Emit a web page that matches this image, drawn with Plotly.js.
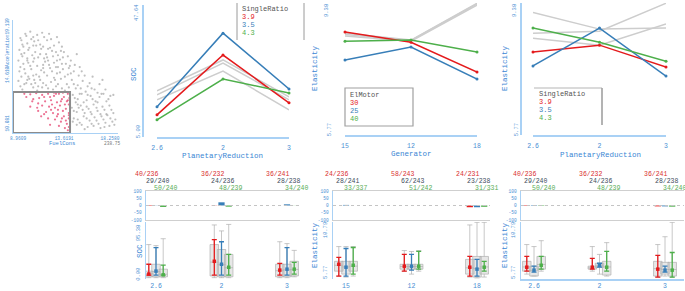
<!DOCTYPE html>
<html><head><meta charset="utf-8">
<script src="https://cdn.plot.ly/plotly-3.0.1.min.js"></script>
<style>html,body{margin:0;padding:0;background:#fff}#chart{width:685px;height:291px}</style>
</head><body><div id="chart"></div>
<script>
// ================= DATA =================
// Scatter (brushing view)
const scatterGrayX = [10.2,11.4,12.1,9.8,10.9, 9.3,9.9,10.6,11.2,11.9,12.6,13.1,10.3, 9.1,9.6,10.1,10.7,11.3,11.8,12.4,13.0,13.6,9.4,10.4, 9.0,9.5,9.9,10.5,11.0,11.5,12.0,12.6,13.2,13.8,14.3,10.2,11.7,9.2, 9.1,9.7,10.3,10.8,11.3,11.9,12.4,12.9,13.5,14.0,14.6,15.1,10.0,12.2,11.1, 9.0,9.6,10.1,10.7,11.2,11.8,12.3,12.8,13.3,13.9,14.4,15.0,15.5,16.0,10.5, 9.4,10.9,12.5,13.7,14.8,15.8,16.4, 14.5,15.0,15.4,15.9,16.3,16.8,17.2,14.8,17.6,18.1, 14.4,14.9,15.3,15.7,16.1,16.6,17.0,17.5,17.9,18.4,15.1,16.4, 14.6,15.2,15.6,16.2,16.7,17.1,17.6,18.0,18.5,14.9, 16.0,17.3,18.2,18.7, 16.5,17.2,17.8,18.6,15.2,14.9,17.5, 9.5,10.8,12.2,11.6,12.9,10.6,12.6,13.4,11.4,9.8,14.2,13.0];
const scatterGrayY = [18.7,18.6,18.5,18.3,18.4, 17.9,17.6,17.8,17.5,17.9,17.4,17.7,18.0, 17.0,16.7,17.2,16.8,17.1,16.6,16.9,16.5,16.8,16.4,16.5, 16.0,15.7,16.2,15.9,16.3,15.6,16.0,15.8,16.1,15.7,16.0,15.5,15.9,15.4, 15.0,14.8,15.2,14.7,15.1,14.6,15.0,14.8,15.2,14.7,15.0,14.6,14.5,15.3,14.5, 14.1,13.8,14.3,13.9,14.2,13.7,14.0,13.6,14.3,13.8,14.2,13.7,14.1,13.6,13.5, 13.3,13.2,13.3,13.2,13.4,13.1,13.4, 12.8,12.4,12.9,12.3,12.7,12.2,12.6,12.1,12.9,12.4, 11.6,11.2,11.8,11.1,11.5,11.9,11.3,11.7,11.0,11.4,11.6,11.0, 10.6,10.2,10.8,10.4,10.7,10.1,10.5,10.9,10.3,10.0, 9.8,9.7,9.9,10.0, 14.5,13.8,13.3,12.8,15.4,16.6,14.2, 17.3,17.4,17.2,16.2,16.0,14.2,14.4,13.4,13.5,13.9,15.5,15.4];
const scatterGrayExtra = [[9.2,18.1],[9.7,18.5],[10.5,18.2],[11.0,17.9],[11.6,18.2],[12.3,18.0],[12.9,18.2],[13.4,17.3],[9.4,17.5],[10.0,17.0],[10.5,17.4],[11.5,17.3],[12.0,17.1],[12.8,16.8],[13.3,16.9],[9.3,16.6],[9.9,16.0],[10.6,16.2],[11.2,16.6],[11.9,16.3],[12.5,16.4],[13.5,16.3],[14.0,16.4],[9.6,15.2],[10.0,15.8],[10.9,15.5],[11.5,15.3],[12.1,15.6],[12.8,15.4],[13.4,15.7],[14.1,15.3],[14.7,15.6],[9.3,14.5],[9.9,14.2],[10.5,14.6],[11.6,14.9],[12.7,14.2],[13.2,14.9],[13.7,14.5],[14.3,14.8],[15.4,15.0],[15.7,14.6],[9.2,13.6],[10.3,13.8],[11.0,13.6],[11.5,13.9],[12.0,13.4],[13.0,13.8],[14.1,13.5],[14.6,13.8],[15.3,13.4],[16.2,13.9],[16.7,13.3],[17.0,13.0],
  [14.7,12.5],[15.2,12.9],[15.6,12.1],[16.0,12.8],[16.5,12.4],[17.0,12.1],[17.4,12.9],[17.9,12.2],[18.3,12.7],[14.6,11.3],[15.0,11.9],[15.5,11.4],[15.9,11.7],[16.3,11.2],[16.9,11.6],[17.3,11.0],[17.7,11.4],[18.2,11.8],[18.6,11.1],[15.0,10.5],[15.4,10.0],[15.9,10.6],[16.4,10.1],[16.9,10.4],[17.4,10.8],[17.8,10.2],[18.3,10.6],[18.8,10.5],[16.6,9.9],[17.7,9.8],[14.5,10.3],[15.7,9.6]];
const scatterSelX = [12.0,12.6,13.1,13.6,14.0,11.4,10.8,10.2,9.6, 12.3,12.9,13.4,13.9,11.7,11.1,10.5, 12.7,13.2,13.8,14.1,12.1,11.4, 13.0,13.6,14.1,12.5,11.8, 13.3,13.9,14.1,12.7, 13.7,14.0,12.2,11.3,10.9,14.15,13.5];
const scatterSelY = [12.9,12.7,12.9,12.6,12.9,12.8,12.95,12.85,12.9, 12.3,12.1,12.4,12.2,12.2,12.5,12.4, 11.6,11.8,11.5,11.9,11.7,11.8, 11.0,10.8,11.1,11.1,11.2, 10.3,10.1,10.6,10.5, 9.7,9.5,10.0,10.8,11.6,12.5,13.0];
const scatterSelExtra = [[9.8,12.6],[10.4,12.2],[11.0,12.0],[11.6,12.6],[12.2,12.6],[12.8,12.9],[13.3,12.2],[13.7,11.9],[14.0,12.3],[12.4,11.9],[13.0,11.4],[13.5,11.3],[14.1,10.9],[12.3,11.4],[12.9,10.8],[13.4,10.6],[13.8,10.4],[12.0,10.6],[11.6,11.0],[13.1,9.9],[14.1,9.8],[10.2,11.7],[11.0,11.3],[12.6,13.0]];
const brushX = [8.45, 14.22];
const brushY = [9.24, 13.07];
const scatterXTicks = [8.9609, 13.6191, 18.2580];
const scatterXTickText = ['8.9609', '13.6191', '18.2580'];
const scatterYTicks = [10.081, 14.610, 19.139];
const scatterYTickText = ['10.081', '14.610', '19.139'];
const scatterCountText = '238.75';

// Categories and groupings
const planetaryCats = ['2.6', '2', '3'];
const generatorCats = ['15', '12', '18'];
const singleRatioLevels = ['3.9', '3.5', '4.3'];
const elMotorLevels = ['30', '25', '40'];

// Top: SOC by PlanetaryReduction (lines per SingleRatio)
const socRatio39 = [12.1, 31.5, 16.0];
const socRatio35 = [14.7, 38.6, 20.5];
const socRatio43 = [10.5, 23.7, 19.2];
const socOtherA = [19.9, 29.9, 17.9];
const socOtherB = [17.0, 26.3, 13.7];
const socOtherC = [18.6, 28.9, 17.0];
const socRange = [5.00, 47.64];

// Top: Elasticity by Generator (lines per ElMotor)
const elaGenMotor30 = [8.59, 8.31, 7.49];
const elaGenMotor25 = [7.82, 8.18, 7.30];
const elaGenMotor40 = [8.34, 8.37, 8.04];
const elaGenOtherA = [8.56, 8.37, 9.38];
const elaGenOtherB = [8.48, 8.34, 9.33];
const elaGenOtherC = [8.52, 8.36, 9.36];
const elaRange = [5.77, 9.38];

// Top: Elasticity by PlanetaryReduction (lines per SingleRatio)
const elaPlanRatio39 = [8.04, 8.23, 7.63];
const elaPlanRatio35 = [7.66, 8.70, 7.38];
const elaPlanRatio43 = [8.70, 8.31, 7.79];
const elaPlanOtherA = [9.13, 8.67, 8.70];
const elaPlanOtherB = [8.56, 8.61, 9.38];
const elaPlanOtherC = [8.42, 8.23, 8.81];

// Bottom: difference bars (-100..100), rows = series, cols = categories
const socDiff = [[-3, -3, 0], [3, 22, 8], [-10, -8, -2]];
const socDiffAlpha = [[1, 0.4, 1], [0.35, 1, 1], [1, 1, 0.35]];
const elaGenDiff = [[0, 0, -12], [4, 0, -12], [0, 0, -9]];
const elaGenDiffAlpha = [[1, 1, 1], [1, 1, 1], [1, 1, 1]];
const elaPlanDiff = [[-3, 0, -6], [-3, 0, -6], [-3, -1, -8]];
const elaPlanDiffAlpha = [[1, 1, 1], [1, 1, 1], [1, 0.4, 1]];

// Bottom: counts
const countsPlanetary = [['40/236', '36/232', '36/241'], ['29/240', '24/236', '28/238'], ['50/240', '48/239', '34/240']];
const countsGenerator = [['24/236', '58/243', '24/231'], ['28/241', '62/243', '23/238'], ['33/337', '51/242', '31/331']];

// Bottom: SOC distribution (rows = SingleRatio 3.9, 3.5, 4.3)
const socIntLo = [[0, 0, 0], [0, 0, 0], [0, 0, 2.3]];
const socIntMid = [[2.3, 31.8, 11.4], [9.1, 25, 13.6], [0.5, 18, 13.6]];
const socIntHi = [[25, 82, 27], [63.6, 77, 63.6], [23, 47.7, 29.5]];
const socBoxMin = [[-6, -6, -6], [-6, -6, -6], [-6, -6, -4]];
const socBoxQ1 = [[-4, -2, -4], [-4, -4, -4], [-4, -4, -2]];
const socBoxMed = [[3, 30, 10], [8, 24, 12], [2, 17, 13]];
const socBoxQ3 = [[9.1, 70.4, 25], [25, 59, 25], [13.6, 47.7, 31.8]];
const socBoxMax = [[70.4, 115.8, 77], [68, 102, 72.7], [84, 117, 57]];
const socBoxTicks = [0, 95.38];
const socBoxRange = [-9.1, 122.6];

// Bottom: Elasticity by Generator (rows = ElMotor 30, 25, 40)
const egIntLo = [[5.42, 6.0, 5.42], [5.42, 6.12, 5.42], [5.65, 6.24, 6.0]];
const egIntMid = [[6.82, 6.59, 6.47], [6.47, 6.59, 6.24], [6.70, 6.59, 6.47]];
const egIntHi = [[7.64, 7.99, 7.75], [8.69, 7.99, 7.40], [8.81, 8.34, 7.17]];
const egBoxMin = [[5.42, 6.0, 5.3], [5.3, 5.65, 5.2], [5.42, 6.0, 5.3]];
const egBoxQ1 = [[6.0, 6.24, 5.65], [5.65, 6.24, 5.3], [6.0, 6.24, 5.65]];
const egBoxMed = [[6.7, 6.55, 6.4], [6.5, 6.55, 6.3], [6.6, 6.55, 6.5]];
const egBoxQ3 = [[7.17, 6.82, 7.40], [7.17, 6.82, 7.75], [7.17, 6.82, 7.75]];
const egBoxMax = [[8.92, 8.45, 11.49], [8.92, 8.34, 11.8], [8.92, 8.45, 11.8]];

// Bottom: Elasticity by PlanetaryReduction (rows = SingleRatio 3.9, 3.5, 4.3)
const epIntLo = [[6.0, 6.24, 5.30], [5.89, 6.47, 5.89], [6.24, 6.0, 5.30]];
const epIntMid = [[6.47, 6.47, 6.24], [6.12, 6.70, 6.12], [6.70, 6.47, 6.12]];
const epIntHi = [[7.75, 7.52, 7.87], [6.59, 6.94, 6.59], [7.75, 8.34, 8.22]];
const epBoxMin = [[5.65, 6.0, 5.3], [5.42, 5.65, 5.42], [6.0, 5.42, 5.3]];
const epBoxQ1 = [[6.0, 6.24, 5.42], [5.42, 6.47, 5.65], [6.24, 5.54, 5.42]];
const epBoxMed = [[6.5, 6.4, 6.3], [6.1, 6.7, 6.2], [6.8, 6.5, 6.2]];
const epBoxQ3 = [[7.17, 6.59, 7.17], [6.59, 6.94, 7.05], [7.75, 7.17, 7.05]];
const epBoxMax = [[9.16, 8.92, 9.16], [8.92, 7.99, 10.09], [9.62, 9.39, 11.8]];
const elaBoxTicks = [5.77, 10.79];
const elaBoxRange = [5.07, 11.84];

// ================= STYLE / LAYOUT HELPERS =================
const W = 685, H = 291;
const fx = p => p / W;
const fy = p => 1 - p / H;
const FONT = '"Liberation Mono", "DejaVu Sans Mono", monospace';
const BLUE_TXT = '#4b8fd4';
const TITLE_BLUE = '#3a86d4';
const AXIS_BLUE = '#a9d1f5';
const COLORS = ['#e41a1c', '#377eb8', '#4daf4a'];
const COUNT_COLORS = ['#d9302f', '#3e4d5c', '#5aae57'];
const GRAY_LINE = '#cdcdcd';
const SER_OFF = [-0.11, 0, 0.11];
const LABEL_OFF = [-0.13, 0.03, 0.15];
const LABEL_Y = [174, 181, 188];

function axis(o) {
  return Object.assign({
    showgrid: false, zeroline: false, showline: false, fixedrange: true,
    ticks: 'outside', ticklen: 3, tickcolor: 'rgba(0,0,0,0)', ticklabeloverflow: 'allow',
    tickfont: { family: FONT, size: 6, color: BLUE_TXT }
  }, o);
}
const fmt = v => v.toFixed(2);
const pad = r => { const d = (r[1] - r[0]) * 0.002; return [r[0] - d, r[1] + d]; };

const traces = [];
const layout = {
  width: W, height: H, margin: { l: 0, r: 0, t: 0, b: 0 }, showlegend: false,
  paper_bgcolor: '#ffffff', plot_bgcolor: 'rgba(0,0,0,0)',
  barmode: 'overlay', boxmode: 'overlay',
  font: { family: FONT, size: 6, color: BLUE_TXT },
  shapes: [], annotations: []
};

function ann(text, xpx, ypx, o) {
  layout.annotations.push(Object.assign({
    xref: 'paper', yref: 'paper', x: fx(xpx), y: fy(ypx), text: text, showarrow: false,
    font: { family: FONT, size: 7.5, color: TITLE_BLUE }, xanchor: 'center', yanchor: 'middle'
  }, o || {}));
}
function pline(x0, y0, x1, y1, color, width) {
  layout.shapes.push({ type: 'line', xref: 'paper', yref: 'paper', x0: fx(x0), y0: fy(y0), x1: fx(x1), y1: fy(y1), line: { color: color, width: width } });
}

// ================= SCATTER =================
const sxRange = [8.454, 19.07], syRange = [9.241, 19.79];
layout.xaxis = axis({ domain: [fx(13), fx(118)], range: sxRange, anchor: 'y', tickvals: scatterXTicks, ticktext: scatterXTickText,
  showline: true, linecolor: AXIS_BLUE, linewidth: 1, tickfont: { family: FONT, size: 4.5, color: BLUE_TXT }, ticklen: 1 });
layout.yaxis = axis({ domain: [fy(133), fy(20)], range: syRange, anchor: 'x', tickvals: scatterYTicks, ticktext: scatterYTickText, tickangle: -90,
  showline: true, linecolor: AXIS_BLUE, linewidth: 1, tickfont: { family: FONT, size: 4.5, color: BLUE_TXT }, ticklen: 1 });
traces.push({ type: 'scatter', mode: 'markers',
  x: scatterGrayX.concat(scatterGrayExtra.map(p => p[0])), y: scatterGrayY.concat(scatterGrayExtra.map(p => p[1])), xaxis: 'x', yaxis: 'y',
  marker: { size: 2.2, color: 'rgba(130,130,130,0.5)' }, hoverinfo: 'skip' });
traces.push({ type: 'scatter', mode: 'markers',
  x: scatterSelX.concat(scatterSelExtra.map(p => p[0])), y: scatterSelY.concat(scatterSelExtra.map(p => p[1])), xaxis: 'x', yaxis: 'y',
  marker: { size: 2.2, color: 'rgba(226,40,90,0.65)' }, hoverinfo: 'skip' });
layout.shapes.push({ type: 'rect', xref: 'x', yref: 'y', x0: brushX[0], x1: brushX[1], y0: brushY[0], y1: brushY[1],
  line: { color: '#8c8c8c', width: 2 }, fillcolor: 'rgba(0,0,0,0)' });
ann('FuelCons', 62, 143, { font: { family: FONT, size: 5.5, color: TITLE_BLUE } });
ann('Acceleration', 7, 51, { textangle: -90, font: { family: FONT, size: 4.5, color: TITLE_BLUE } });
ann(scatterCountText, 112, 143, { font: { family: FONT, size: 4.5, color: '#777' } });

// ================= TOP LINE PANELS =================
function linePanel(n, cats, c0, sp, yTop, yBot, axisPx, yRange, showYLine, gray, colored) {
  layout['xaxis' + n] = axis({ domain: [fx(c0), fx(c0 + 2 * sp)], range: [0, 2], anchor: 'y' + n,
    tickvals: [0, 1, 2], ticktext: cats, showline: true, linecolor: AXIS_BLUE, linewidth: 2, ticklen: 3,
    tickfont: { family: FONT, size: 6.5, color: BLUE_TXT } });
  layout['yaxis' + n] = axis({ domain: [fy(yBot), fy(yTop)], range: pad(yRange), anchor: 'free', position: fx(axisPx),
    tickvals: [yRange[0]], ticktext: [fmt(yRange[0])], tickangle: -90, ticklabelposition: 'outside top',
    showline: showYLine, linecolor: AXIS_BLUE, linewidth: 2,
    ticklen: 3, tickfont: { family: FONT, size: 5.5, color: BLUE_TXT } });
  // top-of-range value label, placed just inside the top of the axis
  ann(fmt(yRange[1]), axisPx - 6, yTop + 8, { textangle: -90, font: { family: FONT, size: 5.5, color: BLUE_TXT } });
  const xs = cats.map((_, i) => i);
  gray.forEach(g => traces.push({ type: 'scatter', mode: 'lines', x: xs, y: g, xaxis: 'x' + n, yaxis: 'y' + n,
    line: { color: GRAY_LINE, width: 1.5 }, cliponaxis: false, hoverinfo: 'skip' }));
  colored.forEach((s, k) => traces.push({ type: 'scatter', mode: 'lines+markers', x: xs, y: s, xaxis: 'x' + n, yaxis: 'y' + n,
    line: { color: COLORS[k], width: 1.5 }, marker: { size: 3, color: COLORS[k] }, cliponaxis: false, hoverinfo: 'skip' }));
}
linePanel(2, planetaryCats, 157, 66, 5, 137, 143, socRange, true, [socOtherA, socOtherB, socOtherC], [socRatio39, socRatio35, socRatio43]);
linePanel(3, generatorCats, 345, 66, 3, 135, 333, elaRange, false, [elaGenOtherA, elaGenOtherB, elaGenOtherC], [elaGenMotor30, elaGenMotor25, elaGenMotor40]);
linePanel(4, planetaryCats, 533, 66.5, 3, 135, 521, elaRange, true, [elaPlanOtherA, elaPlanOtherB, elaPlanOtherC], [elaPlanRatio39, elaPlanRatio35, elaPlanRatio43]);

// Top axis titles
ann('SOC', 134, 74, { textangle: -90 });
ann('PlanetaryReduction', 222, 156);
ann('Elasticity', 315, 68, { textangle: -90 });
ann('Generator', 411, 154);
ann('Elasticity', 505, 68, { textangle: -90 });
ann('PlanetaryReduction', 600, 155);

// Legends
function legend(title, levels, xLeft, yStart) {
  ann(title, xLeft, yStart, { xanchor: 'left', font: { family: FONT, size: 7, color: '#555' } });
  levels.forEach((l, k) => ann(l, xLeft, yStart + 8 * (k + 1), { xanchor: 'left', font: { family: FONT, size: 7, color: COLORS[k] } }));
}
pline(237, 3, 237, 40, '#9a9a9a', 1);
pline(304, 3, 304, 40, '#9a9a9a', 1);
legend('SingleRatio', singleRatioLevels, 240, 9);
layout.shapes.push({ type: 'rect', xref: 'paper', yref: 'paper', x0: fx(345), x1: fx(413), y0: fy(126), y1: fy(88),
  line: { color: '#a0a0a0', width: 1.2 }, fillcolor: '#ffffff' });
legend('ElMotor', elMotorLevels, 348, 95);
pline(534, 88, 602, 88, '#b5b5b5', 1.2);
pline(602, 88, 602, 125, '#a0a0a0', 1.6);
legend('SingleRatio', singleRatioLevels, 537, 94);

// ================= BOTTOM PANELS =================
function bottomPanel(nBar, nBox, cats, axisPx, c0, sp, rightPx, diff, alpha, counts, intLo, intMid, intHi, bMin, bQ1, bMed, bQ3, bMax, boxRange, boxTicks, boxTickText, showBottomLine) {
  const range = [(axisPx - c0) / sp, (rightPx - c0) / sp];
  const dom = [fx(axisPx), fx(rightPx)];
  // bars
  layout['xaxis' + nBar] = axis({ domain: dom, range: range, anchor: 'y' + nBar, showticklabels: false, ticks: '',
    showline: true, mirror: true, linecolor: '#cfcfcf', linewidth: 1 });
  layout['yaxis' + nBar] = axis({ domain: [fy(220), fy(191)], range: [-100, 100], anchor: 'x' + nBar,
    tickvals: [-100, -50, 0, 50, 100], ticktext: ['-100', '-50', '0', '50', '100'], showline: true, linecolor: AXIS_BLUE, linewidth: 1.5,
    ticklen: 2, tickfont: { family: FONT, size: 4.5, color: BLUE_TXT } });
  layout.shapes.push({ type: 'line', xref: 'x' + nBar + ' domain', yref: 'y' + nBar, x0: 0, x1: 1, y0: 0, y1: 0,
    line: { color: '#c4c4c4', width: 1, dash: 'dot' } });
  for (let s = 0; s < 3; s++) {
    traces.push({ type: 'bar', x: cats.map((_, i) => i + SER_OFF[s]), y: diff[s], width: 0.095, xaxis: 'x' + nBar, yaxis: 'y' + nBar,
      marker: { color: COLORS[s], opacity: alpha[s], line: { width: 0 } }, hoverinfo: 'skip' });
    cats.forEach((_, i) => layout.annotations.push({ xref: 'x' + nBar, yref: 'paper', x: i + LABEL_OFF[s], y: fy(LABEL_Y[s]),
      text: counts[s][i], showarrow: false, xanchor: 'center', yanchor: 'middle', font: { family: FONT, size: 6.5, color: COUNT_COLORS[s] } }));
  }
  // boxes
  layout['xaxis' + nBox] = axis({ domain: dom, range: range, anchor: 'y' + nBox, tickvals: [0, 1, 2], ticktext: cats,
    showline: showBottomLine, linecolor: AXIS_BLUE, linewidth: 1.5, ticklen: 0, tickfont: { family: FONT, size: 6.5, color: BLUE_TXT } });
  layout['yaxis' + nBox] = axis({ domain: [fy(279), fy(222)], range: boxRange, anchor: 'x' + nBox, tickvals: boxTicks, ticktext: boxTickText,
    tickangle: -90, showline: true, linecolor: AXIS_BLUE, linewidth: 1.5, ticklen: 2, tickfont: { family: FONT, size: 5.5, color: BLUE_TXT } });
  for (let s = 0; s < 3; s++) {
    const xs = cats.map((_, i) => i + SER_OFF[s]);
    traces.push({ type: 'box', x: xs, q1: bQ1[s], median: bMed[s], q3: bQ3[s], lowerfence: bMin[s], upperfence: bMax[s],
      xaxis: 'x' + nBox, yaxis: 'y' + nBox, width: 0.13, whiskerwidth: 0.6, boxpoints: false,
      fillcolor: 'rgba(185,185,185,0.35)', line: { color: 'rgba(175,175,175,0.7)', width: 1 }, hoverinfo: 'skip' });
  }
  for (let s = 0; s < 3; s++) {
    const xs = cats.map((_, i) => i + SER_OFF[s]);
    traces.push({ type: 'scatter', mode: 'markers', x: xs, y: intMid[s], xaxis: 'x' + nBox, yaxis: 'y' + nBox,
      marker: { size: 3.5, color: COLORS[s], symbol: 'square' },
      error_y: { type: 'data', symmetric: false, array: intHi[s].map((v, i) => v - intMid[s][i]),
        arrayminus: intMid[s].map((v, i) => v - intLo[s][i]), color: COLORS[s], thickness: 1.3, width: 2.5 },
      cliponaxis: false, hoverinfo: 'skip' });
  }
}
bottomPanel(5, 6, planetaryCats, 146, 156, 65.5, 300, socDiff, socDiffAlpha, countsPlanetary,
  socIntLo, socIntMid, socIntHi, socBoxMin, socBoxQ1, socBoxMed, socBoxQ3, socBoxMax, socBoxRange, socBoxTicks, socBoxTicks.map(fmt), false);
bottomPanel(7, 8, generatorCats, 333, 346, 65.5, 490, elaGenDiff, elaGenDiffAlpha, countsGenerator,
  egIntLo, egIntMid, egIntHi, egBoxMin, egBoxQ1, egBoxMed, egBoxQ3, egBoxMax, elaBoxRange, elaBoxTicks, elaBoxTicks.map(fmt), false);
bottomPanel(9, 10, planetaryCats, 521, 534, 65.5, 684, elaPlanDiff, elaPlanDiffAlpha, countsPlanetary,
  epIntLo, epIntMid, epIntHi, epBoxMin, epBoxQ1, epBoxMed, epBoxQ3, epBoxMax, elaBoxRange, elaBoxTicks, elaBoxTicks.map(fmt), true);

ann('SOC', 140, 251, { textangle: -90 });
ann('Elasticity', 315, 245, { textangle: -90 });
ann('Elasticity', 505, 245, { textangle: -90 });

Plotly.newPlot('chart', traces, layout, { staticPlot: true, displayModeBar: false });
</script>
</body></html>
